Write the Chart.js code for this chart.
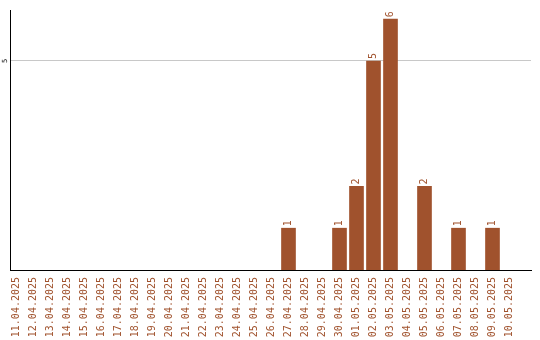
<!DOCTYPE html>
<html>
<head>
<meta charset="utf-8">
<script src="https://cdn.jsdelivr.net/npm/chart.js@4/dist/chart.umd.min.js"></script>
<style>
html,body{margin:0;padding:0;background:#fff;}
#wrap{width:540px;height:340px;position:relative;}
</style>
</head>
<body>
<div id="wrap"><canvas id="c" width="540" height="340"></canvas></div>
<script>
const categories = ["11.04.2025","12.04.2025","13.04.2025","14.04.2025","15.04.2025","16.04.2025","17.04.2025","18.04.2025","19.04.2025","20.04.2025","21.04.2025","22.04.2025","23.04.2025","24.04.2025","25.04.2025","26.04.2025","27.04.2025","28.04.2025","29.04.2025","30.04.2025","01.05.2025","02.05.2025","03.05.2025","04.05.2025","05.05.2025","06.05.2025","07.05.2025","08.05.2025","09.05.2025","10.05.2025"];
const values = [null,null,null,null,null,null,null,null,null,null,null,null,null,null,null,null,1,null,null,1,2,5,6,null,2,null,1,null,1,null];
const yTicks = [5];

const BAR = '#a0522d';
const LABEL = '#a0522d';
const MONO = '"DejaVu Sans Mono", "Liberation Mono", monospace';

const valueLabels = {
  id: 'valueLabels',
  afterDatasetsDraw(chart) {
    const ctx = chart.ctx;
    const xs = chart.scales.x, ys = chart.scales.y;
    ctx.save();
    ctx.fillStyle = LABEL;
    ctx.font = '10px ' + MONO;
    ctx.textAlign = 'left';
    ctx.textBaseline = 'middle';
    values.forEach((v, i) => {
      if (!v) return;
      const x = xs.getPixelForValue(i);
      const y = ys.getPixelForValue(v) - 2;
      ctx.save();
      ctx.translate(x, y);
      ctx.rotate(-Math.PI / 2);
      ctx.fillText(String(v), 0, 0);
      ctx.restore();
    });
    ctx.restore();
  }
};

new Chart(document.getElementById('c'), {
  type: 'bar',
  data: {
    datasets: [{
      data: values.map((v, i) => ({x: i, y: v})),
      backgroundColor: BAR,
      borderWidth: 0,
      barThickness: 14
    }]
  },
  options: {
    responsive: false,
    animation: false,
    layout: {padding: {top: 10, right: 9, left: 0, bottom: 0}},
    plugins: {legend: {display: false}, tooltip: {enabled: false}},
    scales: {
      x: {
        type: 'linear',
        offset: false,
        min: -0.382,
        max: 30.265,
        afterBuildTicks(scale) { scale.ticks = categories.map((c, i) => ({value: i})); },
        afterFit(scale) { scale.height = 70; },
        grid: {display: false, drawTicks: false, offset: false},
        border: {display: true, color: '#000', width: 1},
        ticks: {
          autoSkip: false,
          minRotation: 90,
          maxRotation: 90,
          padding: 7,
          color: LABEL,
          font: {family: MONO, size: 10},
          callback: (v) => categories[v]
        }
      },
      y: {
        min: 0,
        max: 6.22,
        afterBuildTicks(scale) { scale.ticks = yTicks.map(v => ({value: v})); },
        afterFit(scale) { scale.width = 10; },
        grid: {display: true, drawTicks: false, color: '#c8c8c8', lineWidth: 1},
        border: {display: true, color: '#000', width: 1},
        ticks: {
          minRotation: 90,
          maxRotation: 90,
          crossAlign: 'center',
          padding: 3,
          color: '#000',
          font: {family: MONO, size: 7}
        }
      }
    }
  },
  plugins: [valueLabels]
});
</script>
</body>
</html>
